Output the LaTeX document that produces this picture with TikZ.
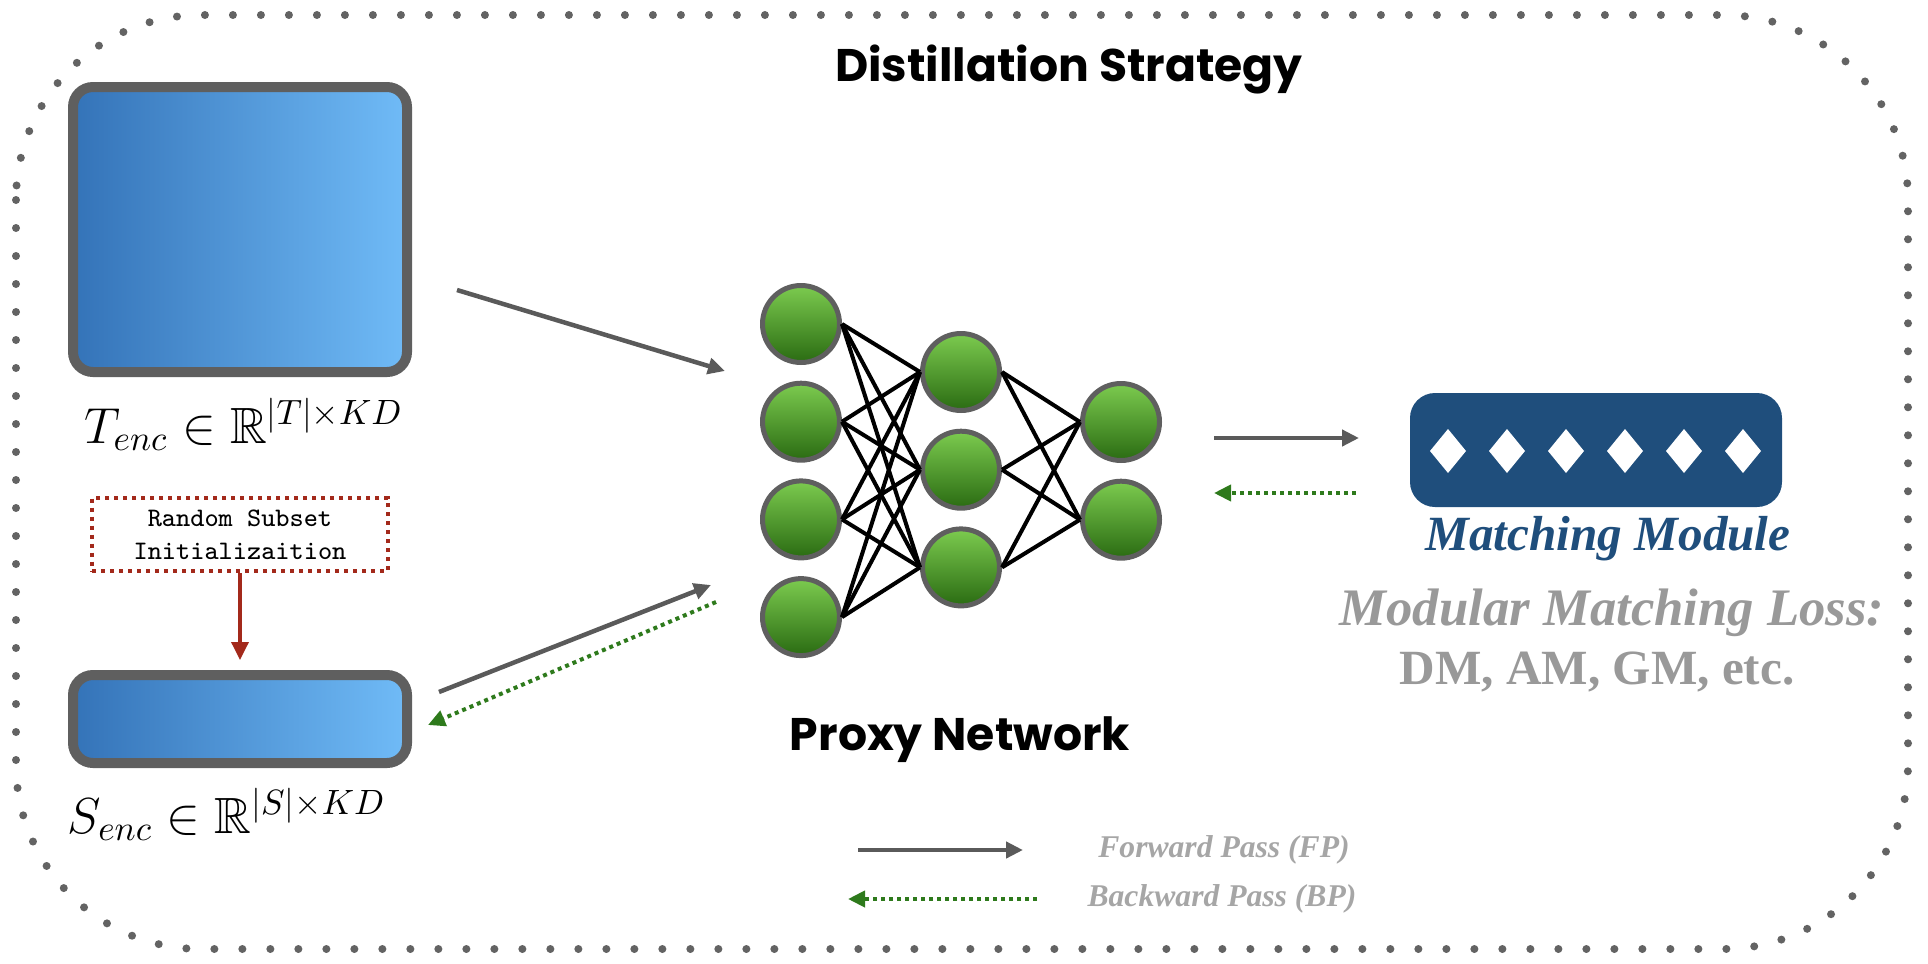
\documentclass[tikz,border=0pt]{standalone}
\usepackage{amssymb}
\usepackage{fontspec}
\usepackage{tikz}
\newfontfamily\comicfont{Poppins}
\newfontfamily\timesfont{Liberation Serif}
\definecolor{framegray}{HTML}{636363}
\definecolor{boxedge}{HTML}{5F5F5F}
\definecolor{encdark}{HTML}{3473B8}
\definecolor{enclight}{HTML}{70BBF7}
\definecolor{neutop}{HTML}{7CCB4F}
\definecolor{neubot}{HTML}{2A6B12}
\definecolor{arrowgray}{HTML}{5A5A5A}
\definecolor{bpgreen}{HTML}{2E7A1C}
\definecolor{initred}{HTML}{A3291B}
\definecolor{matchblue}{HTML}{1F4E7C}
\definecolor{lossgray}{HTML}{999999}
\definecolor{legendgray}{HTML}{A6A6A6}
\usetikzlibrary{positioning,arrows.meta}

\begin{document}
\begin{tikzpicture}[node distance =0.977cm and 1.6cm ,on grid ,
encbox/.style ={draw=boxedge ,line width=0.1cm ,rounded corners=0.2cm ,
left color=encdark ,right color=enclight ,minimum width=3.34cm},
neuron/.style ={circle ,draw=boxedge ,line width=0.05cm ,top color=neutop ,
bottom color=neubot ,minimum size=0.77cm ,inner sep=0pt},
link/.style ={black ,line width=0.04cm},
fp/.style ={-{Triangle[length=0.17cm,width=0.16cm]} ,arrowgray ,line width=0.045cm},
bp/.style ={-{Triangle[length=0.17cm,width=0.16cm]} ,bpgreen ,line width=0.04cm ,
dash pattern=on 0.04cm off 0.04cm},
comic/.style ={font=\comicfont\bfseries\fontsize{13}{15}\selectfont},
legend/.style ={anchor=base ,text=legendgray ,font=\timesfont\bfseries\itshape\fontsize{9}{11}\selectfont}]
  \useasboundingbox (0,0) rectangle (19.28,-9.64);
  % dotted frame
  \draw[framegray ,line width=0.08cm ,line cap=round ,dash pattern=on 0pt off 0.28cm ,
    rounded corners=1.85cm] (0.16,-0.15) rectangle (19.08,-9.49);
  \node[comic ,anchor=base](title) at (10.69,-0.81){Distillation Strategy};
  % encodings
  \node[encbox ,minimum height=2.85cm](tbox) at (2.40,-2.295){};
  \node[encbox ,minimum height=0.88cm](sbox) at (2.40,-7.19){};
  \node[anchor=base ,font=\fontsize{14.5}{16}\selectfont](tlbl) at (2.44,-4.43)
    {$T_{enc} \in \mathbb{R}^{|T|\times KD}$};
  \node[anchor=base ,font=\fontsize{14.5}{16}\selectfont](slbl) at (2.27,-8.33)
    {$S_{enc} \in \mathbb{R}^{|S|\times KD}$};
  \node[draw=initred ,line width=0.04cm ,dash pattern=on 0.045cm off 0.045cm ,
    minimum width=2.96cm ,minimum height=0.71cm ,align=center ,
    font=\ttfamily\fontsize{7.6}{9.4}\selectfont](init) at (2.40,-5.345)
    {Random Subset\\Initializaition};
  \draw[-{Triangle[length=0.18cm,width=0.17cm]} ,initred ,line width=0.035cm ,
    shorten >=0.1cm] (init) -- (sbox);
  % proxy network
  \node[neuron](in1) at (8.01,-3.24){};
  \node[neuron](in2)[below = of in1]{};
  \node[neuron](in3)[below = of in2]{};
  \node[neuron](in4)[below = of in3]{};
  \node[neuron](hid1) at (9.61,-3.72){};
  \node[neuron](hid2)[below = of hid1]{};
  \node[neuron](hid3)[below = of hid2]{};
  \node[neuron](out1) at (11.21,-4.22){};
  \node[neuron](out2)[below = of out1]{};
  \foreach \i in {1,...,4}
    \foreach \j in {1,2,3}
      \draw[link] (in\i.east) -- (hid\j.west);
  \foreach \j in {1,2,3}
    \foreach \k in {1,2}
      \draw[link] (hid\j.east) -- (out\k.west);
  \node[comic ,anchor=base](proxy) at (9.60,-7.50){Proxy Network};
  % passes between encodings and network
  \coordinate (tout) at (4.57,-2.90);
  \coordinate (tin) at (7.25,-3.71);
  \coordinate (sout) at (4.39,-6.92);
  \coordinate (sin) at (7.11,-5.85);
  \coordinate (gout) at (7.16,-6.02);
  \coordinate (gin) at (4.28,-7.25);
  \draw[fp] (tout) -- (tin);
  \draw[fp] (sout) -- (sin);
  \draw[bp] (gout) -- (gin);
  % matching module
  \node[fill=matchblue ,rounded corners=0.25cm ,minimum width=3.72cm ,
    minimum height=1.14cm](match) at (15.96,-4.50){};
  \foreach \x in {14.48,15.07,15.66,16.25,16.84,17.43}
    \fill[white] (\x,-4.51) +(-0.18,0) -- +(0,0.22) -- +(0.18,0) -- +(0,-0.22) -- cycle;
  \coordinate (mfa) at (12.14,-4.38);
  \coordinate (mfb) at (13.59,-4.38);
  \coordinate (mba) at (13.56,-4.93);
  \coordinate (mbb) at (12.14,-4.93);
  \draw[fp] (mfa) -- (mfb);
  \draw[bp] (mba) -- (mbb);
  \node[anchor=base ,text=matchblue ,font=\timesfont\bfseries\itshape\fontsize{14}{17}\selectfont]
    (matchlbl) at (16.08,-5.50){Matching Module};
  \node[anchor=base ,text=lossgray ,font=\timesfont\bfseries\itshape\fontsize{15}{17}\selectfont]
    (losslbl) at (16.12,-6.25){Modular Matching Loss:};
  \node[anchor=base ,text=lossgray ,font=\timesfont\bfseries\fontsize{14}{17}\selectfont]
    (losslist) at (15.97,-6.84){DM, AM, GM, etc.};
  % legend
  \coordinate (fpa) at (8.58,-8.50);
  \coordinate (fpb) at (10.23,-8.50);
  \coordinate (bpa) at (10.37,-8.99);
  \coordinate (bpb) at (8.48,-8.99);
  \draw[fp] (fpa) -- (fpb);
  \draw[bp] (bpa) -- (bpb);
  \node[legend](fplbl) at (12.24,-8.57){Forward Pass (FP)};
  \node[legend](bplbl) at (12.22,-9.06){Backward Pass (BP)};
\end{tikzpicture}
\end{document}
